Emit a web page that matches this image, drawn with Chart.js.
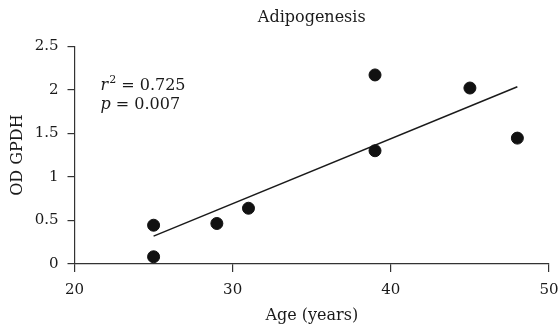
<!DOCTYPE html>
<html>
<head>
<meta charset="utf-8">
<script src="https://cdn.jsdelivr.net/npm/chart.js@4/dist/chart.umd.min.js"></script>
<style>
  html, body { margin: 0; padding: 0; background: #fff; }
  #wrap { width: 559px; height: 330px; }
</style>
</head>
<body>
<div id="wrap"><canvas id="chartAdipo"></canvas></div>
<script>
// values
const ages   = [25, 25, 29, 31, 39, 39, 45, 48];
const odGpdh = [0.445, 0.083, 0.465, 0.64, 2.17, 1.30, 2.02, 1.445];

// regression line end points
const fitAges = [25, 48];
const fitOd   = [0.32, 2.035];

const xTicks = [20, 30, 40, 50];
const yTicks = [0, 0.5, 1, 1.5, 2, 2.5];

const statLines = [
    { sym: 'r', sup: '2', rest: ' = 0.725' },
    { sym: 'p', sup: '',  rest: ' = 0.007' }
];

const FONT = "'DejaVu Serif', 'Liberation Serif', serif";
const INK = '#1a1a1a';

// draws the r^2 / p annotation in the top left of the plot
const statsPlugin = {
    id: 'stats',
    afterDraw(chart) {
        const { ctx, chartArea } = chart;
        ctx.save();
        ctx.fillStyle = INK;
        ctx.textBaseline = 'alphabetic';
        let y = chartArea.top + 44;
        statLines.forEach(l => {
            let x = chartArea.left + 26;
            ctx.font = 'italic 16px ' + FONT;
            ctx.fillText(l.sym, x, y);
            x += ctx.measureText(l.sym).width;
            if (l.sup) {
                ctx.font = '11px ' + FONT;
                ctx.fillText(l.sup, x + 1, y - 7);
                x += ctx.measureText(l.sup).width + 1;
            }
            ctx.font = '16px ' + FONT;
            ctx.fillText(l.rest, x, y);
            y += 19;
        });
        ctx.restore();
    }
};

const ctx = document.getElementById('chartAdipo').getContext('2d');
new Chart(ctx, {
    type: 'scatter',
    data: {
        datasets: [
            {
                type: 'scatter',
                data: ages.map((a, i) => ({ x: a, y: odGpdh[i] })),
                backgroundColor: '#111',
                borderColor: '#111',
                pointRadius: 6,
                pointHoverRadius: 6
            },
            {
                type: 'line',
                data: fitAges.map((a, i) => ({ x: a, y: fitOd[i] })),
                borderColor: INK,
                borderWidth: 1.5,
                pointRadius: 0,
                fill: false
            }
        ]
    },
    options: {
        responsive: true,
        maintainAspectRatio: false,
        animation: false,
        layout: { padding: { left: 0, right: 10, top: 6, bottom: 1 } },
        plugins: {
            legend: { display: false },
            tooltip: { enabled: false },
            title: {
                display: true,
                fullSize: false,
                text: 'Adipogenesis',
                color: INK,
                font: { family: FONT, size: 16, weight: 'normal' },
                padding: { top: 2, bottom: 19 }
            }
        },
        scales: {
            x: {
                type: 'linear',
                min: 20, max: 50,
                afterBuildTicks: s => { s.ticks = xTicks.map(v => ({ value: v })); },
                afterFit: s => { s.height = 65; s.paddingLeft = 0; s.paddingRight = 0; },
                grid: { drawOnChartArea: false, drawTicks: true, tickLength: 8, color: '#333', lineWidth: 1.2 },
                border: { display: true, color: '#333', width: 1.2 },
                ticks: { color: INK, font: { family: FONT, size: 15 }, padding: 9, callback: v => String(v) },
                title: { display: true, text: 'Age (years)', color: INK, font: { family: FONT, size: 16 }, padding: { top: 3 } }
            },
            y: {
                type: 'linear',
                min: 0, max: 2.5,
                afterBuildTicks: s => { s.ticks = yTicks.map(v => ({ value: v })); },
                afterFit: s => { s.width = 74.5; },
                grid: { drawOnChartArea: false, drawTicks: true, tickLength: 7, color: '#333', lineWidth: 1.2 },
                border: { display: true, color: '#333', width: 1.2 },
                ticks: { color: INK, font: { family: FONT, size: 15 }, padding: 9, callback: v => String(v) },
                title: { display: true, text: 'OD GPDH', color: INK, font: { family: FONT, size: 16 }, padding: { top: 8, bottom: 4 } }
            }
        }
    },
    plugins: [statsPlugin]
});
</script>
</body>
</html>
